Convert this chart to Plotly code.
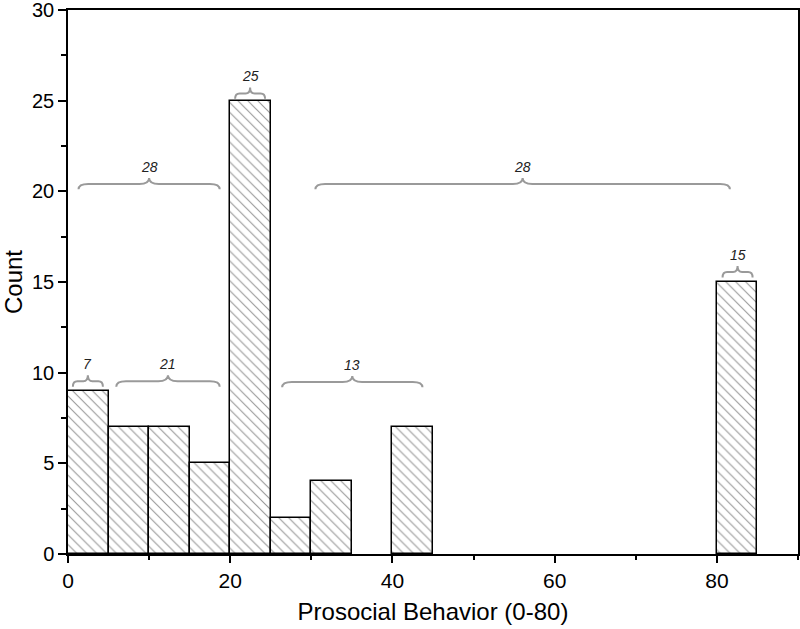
import plotly.graph_objects as go

# Histogram data (bin width 5)
bin_starts = [0, 5, 10, 15, 20, 25, 30, 40, 80]
counts = [9, 7, 7, 5, 25, 2, 4, 7, 15]
bin_width = 5

# Brace annotations: start x, end x, flat level y, label
brace_x0 = [0.6, 5.95, 1.3, 20.6, 26.4, 30.5, 80.7]
brace_x1 = [4.3, 18.7, 18.7, 24.3, 43.7, 81.6, 84.4]
brace_y = [9.53, 9.53, 20.41, 25.4, 9.49, 20.41, 15.55]
brace_labels = ["7", "21", "28", "25", "13", "28", "15"]

fig = go.Figure()
fig.add_trace(go.Bar(
    x=[b + bin_width / 2 for b in bin_starts],
    y=counts,
    width=bin_width,
    marker=dict(
        color="white",
        line=dict(color="black", width=1.5),
        pattern=dict(shape="\\", fgcolor="#333333", bgcolor="white", size=7, solidity=0.16),
    ),
    showlegend=False,
))

shapes = []
annotations = []
for x0, x1, y, lab in zip(brace_x0, brace_x1, brace_y, brace_labels):
    xm = (x0 + x1) / 2
    w = x1 - x0
    c = min(1.2, w * 0.15)
    ye = y - 0.3
    yt = y + 0.33
    path = (f"M {x0},{ye} Q {x0},{y} {x0 + c},{y} L {xm - c},{y} "
            f"Q {xm},{y} {xm},{yt} Q {xm},{y} {xm + c},{y} "
            f"L {x1 - c},{y} Q {x1},{y} {x1},{ye}")
    shapes.append(dict(type="path", path=path, xref="x", yref="y",
                       line=dict(color="#9a9a9a", width=2)))
    annotations.append(dict(x=xm, y=yt, xref="x", yref="y", text=f"<i>{lab}</i>",
                            showarrow=False, yanchor="bottom", yshift=1,
                            font=dict(family="Liberation Sans, Arial", size=14, color="#222222")))

fig.update_layout(
    width=800, height=629,
    margin=dict(l=68, r=2, t=10, b=75),
    plot_bgcolor="white", paper_bgcolor="white",
    shapes=shapes, annotations=annotations,
    bargap=0,
    font=dict(family="Liberation Sans, Arial", size=20, color="black"),
)
fig.update_xaxes(
    range=[0, 90], dtick=20, tick0=0,
    showgrid=False, zeroline=False, automargin=False,
    showline=True, linecolor="black", linewidth=1.5, mirror=True,
    ticks="outside", ticklen=7, tickwidth=1.5, tickcolor="black",
    minor=dict(dtick=10, ticks="outside", ticklen=4, tickwidth=1.5, tickcolor="black"),
    title=dict(text="Prosocial Behavior (0-80)", font=dict(size=24), standoff=12),
    tickfont=dict(size=21), ticklabeloverflow="allow",
)
fig.update_yaxes(
    range=[0, 30], dtick=5, tick0=0,
    showgrid=False, zeroline=False, automargin=False,
    showline=True, linecolor="black", linewidth=1.5, mirror=True,
    ticks="outside", ticklen=8, tickwidth=1.5, tickcolor="black",
    minor=dict(dtick=2.5, ticks="outside", ticklen=5, tickwidth=1.5, tickcolor="black"),
    title=dict(text="Count", font=dict(size=24), standoff=8),
    tickfont=dict(size=20), ticklabeloverflow="allow",
)

fig.write_html("out.html",
               config={"displayModeBar": False},
               post_script="document.body.style.margin='0';document.body.style.overflow='hidden';")
